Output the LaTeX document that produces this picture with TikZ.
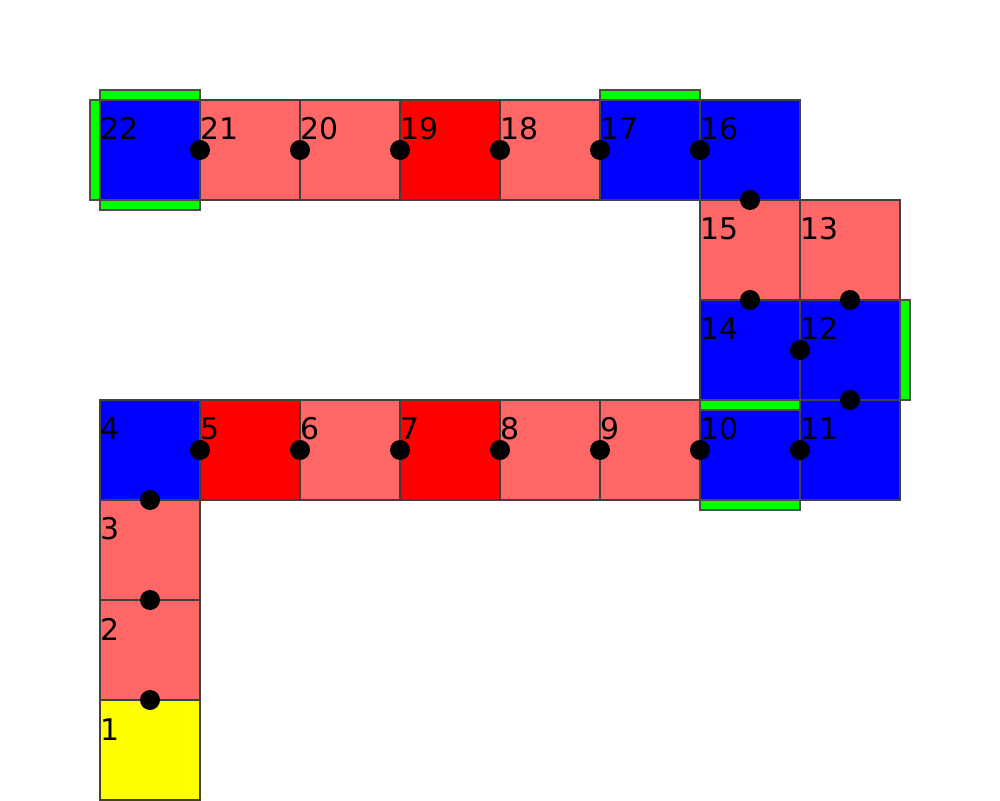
\documentclass[tikz,border=0pt]{standalone}
\usepackage{fontspec}
\setmainfont{DejaVu Sans}
\usepackage{tikz}
\usetikzlibrary{calc}
\definecolor{kek}{HTML}{0000FF}
\definecolor{piros}{HTML}{FF0000}
\definecolor{halvany}{HTML}{FF6666}
\definecolor{sarga}{HTML}{FFFF00}
\definecolor{zold}{HTML}{00FF00}
\tikzset{
  cella/.style={draw=black!75,line width=0.4pt,minimum size=1cm,inner sep=0pt,outer sep=0pt},
  szam/.style={anchor=base west,inner sep=0pt,font=\fontsize{8.5}{10}\selectfont},
  fal/.style={draw=black!70,line width=0.4pt,fill=zold},
  golyo/.style={fill=black},
}

\begin{document}
\begin{tikzpicture}
  \useasboundingbox (0,0) rectangle (10,8);
  % negyzetek
  \foreach \i/\x/\y/\c in {1/1/0/sarga,2/1/1/halvany,3/1/2/halvany,4/1/3/kek,
      5/2/3/piros,6/3/3/halvany,7/4/3/piros,8/5/3/halvany,9/6/3/halvany,
      10/7/3/kek,11/8/3/kek,12/8/4/kek,13/8/5/halvany,14/7/4/kek,15/7/5/halvany,
      16/7/6/kek,17/6/6/kek,18/5/6/halvany,19/4/6/piros,20/3/6/halvany,
      21/2/6/halvany,22/1/6/kek} {
    \node[cella,fill=\c] (s\i) at (\x+0.5,\y+0.5) {};
    \node[szam] (t\i) at ($(s\i.north west)+(0,-0.4)$) {\i};
  }
  % zold falak
  \draw[fal] (s22.north west) rectangle ++(1,0.1);
  \draw[fal] (s22.south west) rectangle ++(1,-0.1);
  \draw[fal] (s22.south west) rectangle ++(-0.1,1);
  \draw[fal] (s17.north west) rectangle ++(1,0.1);
  \draw[fal] (s12.south east) rectangle ++(0.1,1);
  \draw[fal] (s10.north west) rectangle ++(1,-0.1);
  \draw[fal] (s10.south west) rectangle ++(1,-0.1);
  % kotesek
  \foreach \a/\b in {1/2,2/3,3/4,4/5,5/6,6/7,7/8,8/9,9/10,10/11,11/12,12/13,
      12/14,14/15,15/16,16/17,17/18,18/19,19/20,20/21,21/22}
    \fill[golyo] ($(s\a)!0.5!(s\b)$) circle (0.1);
\end{tikzpicture}
\end{document}
